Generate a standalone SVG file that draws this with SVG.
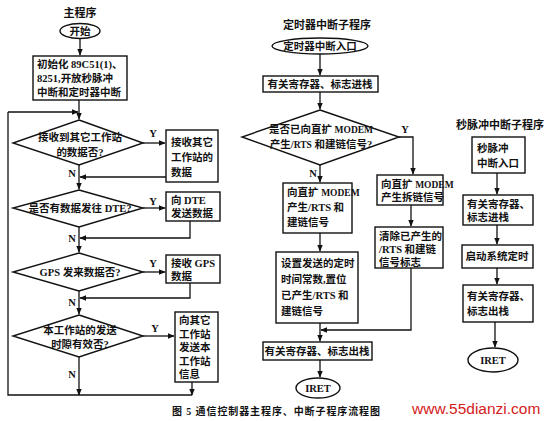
<svg xmlns="http://www.w3.org/2000/svg" width="548" height="421" viewBox="0 0 548 421">
<defs>
<marker id="ah" viewBox="0 0 10 10" refX="9" refY="5" markerWidth="7" markerHeight="7" markerUnits="userSpaceOnUse" orient="auto">
<path d="M0,1 L10,5 L0,9 z" fill="#111"/>
</marker>
</defs>
<style>
.s{fill:#fff;stroke:#111;stroke-width:1.4}
.c{fill:none;stroke:#111;stroke-width:1.3}
.a{fill:none;stroke:#111;stroke-width:1.3;marker-end:url(#ah)}
text{font-family:"Liberation Serif","Noto Sans CJK SC",serif;font-size:10.5px;fill:#111;font-weight:bold}
.m{text-anchor:middle}
.t{font-size:11px}
.n{font-size:9.5px}
</style>
<rect width="548" height="421" fill="#fff"/>

<!-- Titles -->
<text class="m t" x="80" y="17">主程序</text>
<text class="m t" x="327" y="29">定时器中断子程序</text>
<text class="m t" x="500" y="129">秒脉冲中断子程序</text>

<!-- Connectors -->
<g id="connectors">
<path class="a" d="M80,38 V55"/>
<path class="a" d="M79,100 V119"/>
<path class="c" d="M79,395 H8 V112"/>
<path class="a" d="M8,112 H78"/>
<path class="a" d="M143,143 H165"/>
<path class="a" d="M166,177 H80"/>
<path class="a" d="M79,165 V189"/>
<path class="a" d="M143,208 H165"/>
<path class="a" d="M190,221 V238 H80"/>
<path class="a" d="M79,227 V252"/>
<path class="a" d="M143,272 H165"/>
<path class="a" d="M190,283 V298 H80"/>
<path class="a" d="M79,291 V314"/>
<path class="a" d="M143,336 H174"/>
<path class="a" d="M79,357 V395"/>
<path class="a" d="M192,382 V395"/>
<path class="c" d="M79,395 H192"/>

<path class="a" d="M320,54 V75"/>
<path class="a" d="M320,92 V109"/>
<path class="a" d="M320,165 V182"/>
<path class="a" d="M399,137 H413 V174"/>
<path class="a" d="M320,233 V251"/>
<path class="a" d="M411,205 V226"/>
<path class="a" d="M411,268 V330 H321"/>
<path class="a" d="M320,323 V341"/>
<path class="a" d="M320,360 V377"/>

<path class="a" d="M497,173 V194"/>
<path class="a" d="M497,225 V244"/>
<path class="a" d="M497,268 V284"/>
<path class="a" d="M495,322 V347"/>
</g>

<!-- Labels Y/N -->
<g id="yn">
<text class="m" x="153" y="137">Y</text>
<text class="m" x="72" y="177">N</text>
<text class="m" x="153" y="205">Y</text>
<text class="m" x="72" y="242">N</text>
<text class="m" x="153" y="267">Y</text>
<text class="m" x="72" y="306">N</text>
<text class="m" x="155" y="332">Y</text>
<text class="m" x="72" y="378">N</text>
<text class="m" x="405" y="133">Y</text>
<text class="m" x="313" y="177">N</text>
</g>

<!-- Main program nodes -->
<g id="start"><ellipse class="s" cx="80" cy="31" rx="20" ry="7.5"/><text class="m" x="80" y="35">开始</text></g>
<g id="init"><rect class="s" x="33" y="56" width="94" height="44"/>
<text x="37" y="68">初始化 89C51(1)、</text>
<text x="37" y="82">8251,开放秒脉冲</text>
<text x="37" y="96">中断和定时器中断</text></g>
<g id="d1"><path class="s" d="M79,120 L143,143 L79,165 L13,143 z"/>
<text class="m" x="80" y="141">接收到其它工作站</text>
<text class="m" x="80" y="156">的数据否?</text></g>
<g id="b1"><rect class="s" x="166" y="130" width="52" height="52"/>
<text x="171" y="146">接收其它</text><text x="171" y="161">工作站的</text><text x="171" y="176">数据</text></g>
<g id="d2"><path class="s" d="M79,190 L143,208 L79,227 L13,208 z"/>
<text class="m" x="80" y="212">是否有数据发往 DTE?</text></g>
<g id="b2"><rect class="s" x="166" y="192" width="54" height="29"/>
<text x="171" y="204">向 DTE</text><text x="171" y="217">发送数据</text></g>
<g id="d3"><path class="s" d="M79,253 L143,272 L79,291 L13,272 z"/>
<text class="m" x="80" y="276">GPS 发来数据否?</text></g>
<g id="b3"><rect class="s" x="166" y="255" width="54" height="28"/>
<text x="171" y="267">接收 GPS</text><text x="171" y="280">数据</text></g>
<g id="d4"><path class="s" d="M79,315 L143,336 L79,357 L13,336 z"/>
<text class="m" x="80" y="334">本工作站的发送</text>
<text class="m" x="80" y="348">时隙有效否?</text></g>
<g id="b4"><rect class="s" x="175" y="312" width="43" height="70"/>
<text x="179" y="324">向其它</text><text x="179" y="338">工作站</text><text x="179" y="351">发送本</text><text x="179" y="365">工作站</text><text x="179" y="378">信息</text></g>

<!-- Timer interrupt -->
<g id="t0"><ellipse class="s" cx="320" cy="46" rx="48" ry="8"/><text class="m" x="320" y="50">定时器中断入口</text></g>
<g id="t1"><rect class="s" x="263" y="76" width="115" height="16"/><text class="m" x="320" y="88">有关寄存器、标志进栈</text></g>
<g id="td"><path class="s" d="M320,110 L399,137 L320,165 L242,137 z"/>
<text class="m" x="321" y="133">是否已向直扩 <tspan class="n">MODEM</tspan></text>
<text class="m" x="321" y="148">产生/<tspan class="n">RTS</tspan> 和建链信号?</text></g>
<g id="t2"><rect class="s" x="283" y="183" width="69" height="50"/>
<text x="287" y="196">向直扩 <tspan class="n">MODEM</tspan></text><text x="287" y="211">产生/RTS 和</text><text x="287" y="226">建链信号</text></g>
<g id="t3"><rect class="s" x="276" y="252" width="82" height="71"/>
<text x="281" y="267">设置发送的定时</text><text x="281" y="283">时间常数,置位</text><text x="281" y="299">已产生/RTS 和</text><text x="281" y="315">建链信号</text></g>
<g id="t4"><rect class="s" x="377" y="175" width="66" height="30"/>
<text x="381" y="188">向直扩 <tspan class="n">MODEM</tspan></text><text x="381" y="201">产生拆链信号</text></g>
<g id="t5"><rect class="s" x="375" y="227" width="68" height="41"/>
<text x="379" y="240">清除已产生的</text><text x="379" y="253">/RTS 和建链</text><text x="379" y="266">信号标志</text></g>
<g id="t6"><rect class="s" x="263" y="342" width="109" height="18"/><text class="m" x="317" y="355">有关寄存器、标志出栈</text></g>
<g id="t7"><ellipse class="s" cx="318" cy="388" rx="22" ry="10"/><text class="m" x="318" y="392">IRET</text></g>

<!-- Second pulse interrupt -->
<g id="p0"><rect class="s" x="472" y="137" width="53" height="36"/><text x="477" y="152">秒脉冲</text><text x="477" y="167">中断入口</text></g>
<g id="p1"><rect class="s" x="463" y="195" width="70" height="30"/><text x="467" y="208">有关寄存器、</text><text x="467" y="221">标志进栈</text></g>
<g id="p2"><rect class="s" x="462" y="245" width="71" height="23"/><text class="m" x="497" y="260">启动系统定时</text></g>
<g id="p3"><rect class="s" x="463" y="285" width="70" height="37"/><text x="467" y="300">有关寄存器、</text><text x="467" y="315">标志出栈</text></g>
<g id="p4"><ellipse class="s" cx="493" cy="360" rx="25" ry="12"/><text class="m" x="493" y="364">IRET</text></g>

<!-- Caption -->
<text x="172" y="415" style="font-size:10px;letter-spacing:0.9px">图 5  通信控制器主程序、中断子程序流程图</text>
<text x="412" y="414" style="font-family:'Liberation Sans',sans-serif;font-size:15.5px;font-weight:normal;fill:#d42020">www.55dianzi.com</text>
</svg>
